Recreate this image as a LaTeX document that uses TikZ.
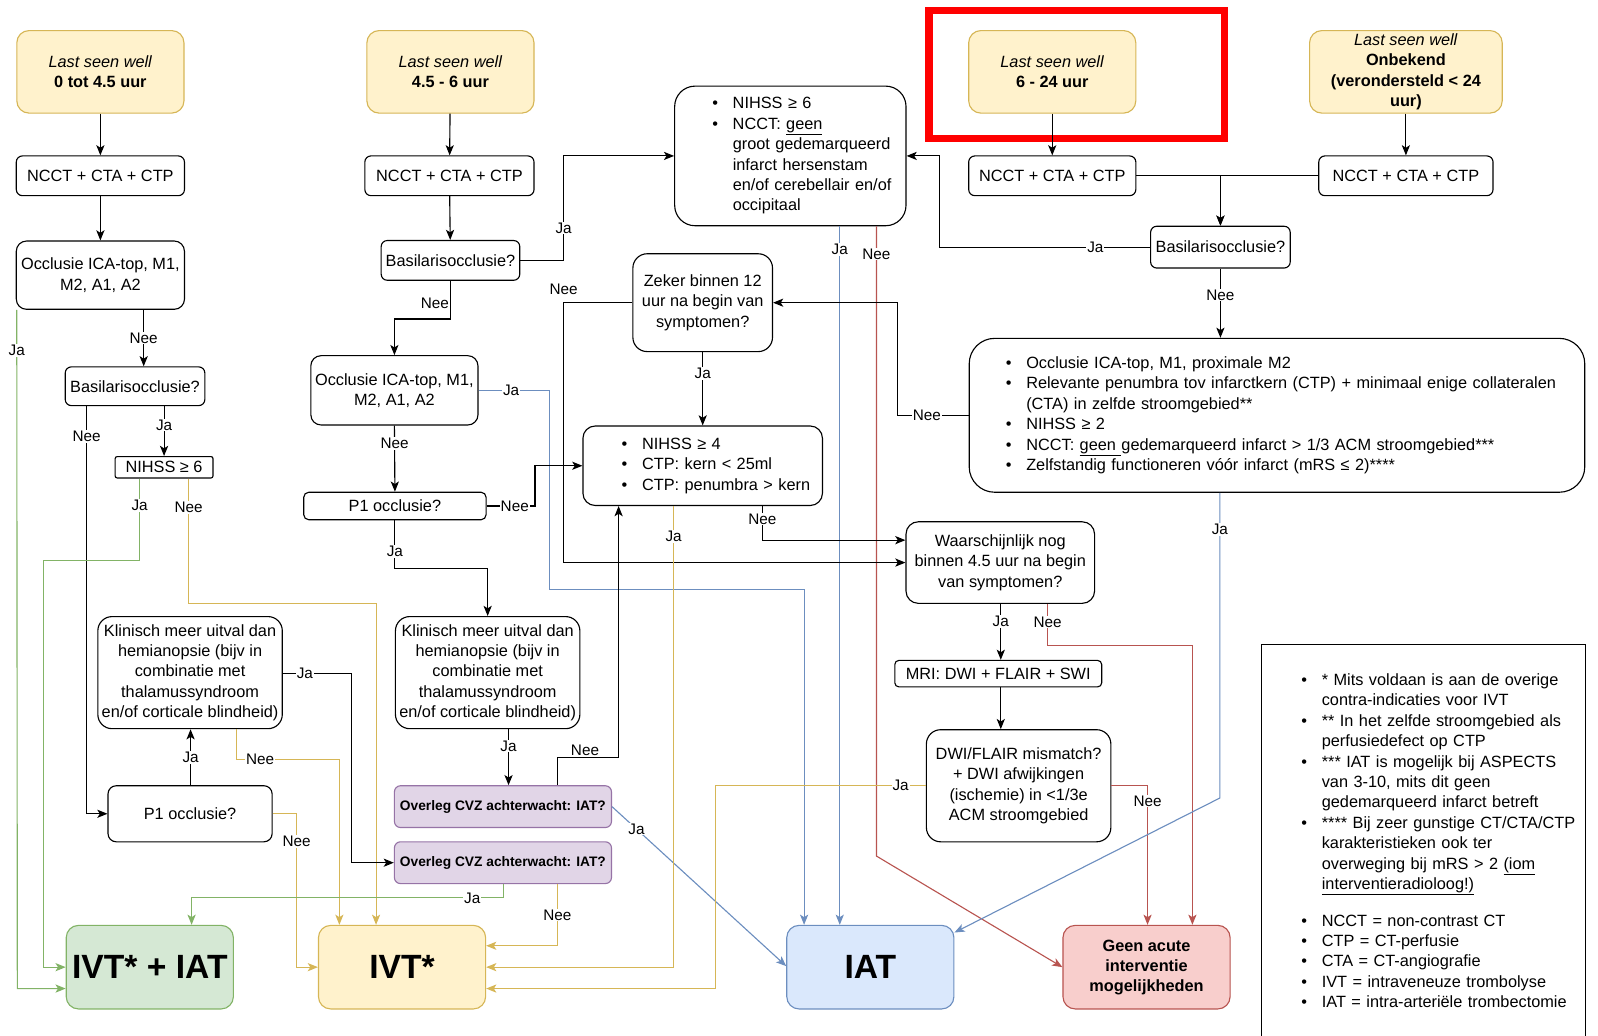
\documentclass[tikz,border=0pt]{standalone}
\usepackage{fontspec}
\setmainfont{Liberation Sans}
\usepackage{xcolor}
\usepackage{tikz}
\usetikzlibrary{arrows.meta,positioning}

\definecolor{yelF}{HTML}{FFF2CC}\definecolor{yelD}{HTML}{D6B656}
\definecolor{grnF}{HTML}{D5E8D4}\definecolor{grnD}{HTML}{82B366}
\definecolor{bluF}{HTML}{DAE8FC}\definecolor{bluD}{HTML}{6C8EBF}
\definecolor{redF}{HTML}{F8CECC}\definecolor{redD}{HTML}{B85450}
\definecolor{purF}{HTML}{E1D5E7}\definecolor{purD}{HTML}{9673A6}
\newcommand{\bltx}{\makebox[20pt][l]{\textbullet}}
\newcommand{\indx}{\hspace*{20pt}}
\newcommand{\lstskip}[1]{\leftskip=#1\rightskip=-40pt plus 1fil\relax}

\begin{document}
\begin{tikzpicture}[x=1pt, y=-1pt, font=\fontsize{16}{20}\selectfont,
  box/.style={draw, rounded corners=#1, align=center, inner sep=2pt, line width=1.1pt},
  box/.default=6pt,
  lst/.style={box=#1, align=left, inner xsep=4pt},
  note/.style={draw, line width=0.9pt, align=left, inner xsep=4pt},
  lsw/.style={box=12pt, fill=yelF, draw=yelD, minimum width=164pt, minimum height=81pt},
  scan/.style={box, minimum height=39pt},
  ovl/.style={box, fill=purF, draw=purD, minimum width=213pt, minimum height=41pt, font=\fontsize{13.5}{16}\selectfont\bfseries},
  endbox/.style={box=12pt, minimum width=164pt, minimum height=82pt, font=\fontsize{33}{36}\selectfont\bfseries},
  lbl/.style={fill=white, inner sep=1pt, font=\fontsize{15}{18}\selectfont},
  arr/.style={-{Stealth[length=10pt, width=8pt, inset=2.5pt]}, line width=1.1pt},
  garr/.style={arr, draw=grnD}, yarr/.style={arr, draw=yelD},
  barr/.style={arr, draw=bluD}, rarr/.style={arr, draw=redD}]
\useasboundingbox (0,0) rectangle (1568,1016);
% start
\node[lsw] (L1) at (98.5,70.5) {\textit{Last seen well}\\\textbf{0 tot 4.5 uur}};
\node[lsw] (L2) at (442,70.5) {\textit{Last seen well}\\\textbf{4.5 - 6 uur}};
\node[lsw] (L3) at (1032.5,70.5) {\textit{Last seen well}\\\textbf{6 - 24 uur}};
\node[lsw, minimum width=189pt, inner ysep=0pt] (L4) at (1379.5,70.5) {\textit{Last seen well}\\\textbf{Onbekend}\\\textbf{(verondersteld < 24}\\\textbf{uur)}};
\draw[red, line width=7pt] (911.5,10.5) rectangle (1201.5,135.5);
\node[scan, minimum width=165pt] (C1) at (98.5,172.5) {NCCT + CTA + CTP};
\node[scan, minimum width=166pt] (C2) at (441,172.5) {NCCT + CTA + CTP};
\node[scan, minimum width=164pt] (C3) at (1032.5,172.5) {NCCT + CTA + CTP};
\node[scan, minimum width=171pt] (C4) at (1379.5,172.5) {NCCT + CTA + CTP};
% 0 - 4.5 uur
\node[box=10pt, minimum width=165pt, minimum height=67pt] (O1) at (98.5,270) {Occlusie ICA-top, M1,\\M2, A1, A2};
\node[box, minimum width=137pt, minimum height=38pt] (B1) at (132.5,379) {Basilarisocclusie?};
\node[box=2pt, minimum width=96pt, minimum height=21pt, inner ysep=0pt] (H1) at (161,458.5) {NIHSS ≥ 6};
\node[box=14pt, minimum width=181pt, minimum height=110pt] (K1) at (186.5,660) {Klinisch meer uitval dan\\hemianopsie (bijv in\\combinatie met\\thalamussyndroom\\en/of corticale blindheid)};
\node[box=8pt, minimum width=161pt, minimum height=55pt] (P1) at (186.5,798.5) {P1 occlusie?};
% 4.5 - 6 uur
\node[box, minimum width=136pt, minimum height=39pt] (B2) at (442,255.5) {Basilarisocclusie?};
\node[box=10pt, minimum width=164pt, minimum height=68pt] (O2) at (387,383) {Occlusie ICA-top, M1,\\M2, A1, A2};
\node[box=5pt, minimum width=179pt, minimum height=27pt, inner ysep=0pt] (P2) at (387.5,496.5) {P1 occlusie?};
\node[box=14pt, minimum width=181pt, minimum height=110pt] (K2) at (478.5,660) {Klinisch meer uitval dan\\hemianopsie (bijv in\\combinatie met\\thalamussyndroom\\en/of corticale blindheid)};
\node[ovl] (V1) at (493.5,791.5) {Overleg CVZ achterwacht: IAT?};
\node[ovl] (V2) at (493.5,846.5) {Overleg CVZ achterwacht: IAT?};
% criteria
\node[lst=20pt, text width=219pt, minimum height=137pt] (E1) at (775.5,153) {\lstskip{33pt}%
\bltx NIHSS ≥ 6\\
\bltx NCCT: \underline{geen}\\
\indx groot gedemarqueerd\\
\indx infarct hersenstam\\
\indx en/of cerebellair en/of\\
\indx occipitaal\par};
\node[box=14pt, minimum width=137pt, minimum height=96pt] (Z) at (689.5,297) {Zeker binnen 12\\uur na begin van\\symptomen?};
\node[lst=12pt, text width=227pt, minimum height=78pt] (E2) at (689.5,457) {\lstskip{34pt}%
\bltx NIHSS ≥ 4\\
\bltx CTP: kern < 25ml\\
\bltx CTP: penumbra > kern\par};
\node[box=12pt, minimum width=185pt, minimum height=80pt] (W) at (981.5,552) {Waarschijnlijk nog\\binnen 4.5 uur na begin\\van symptomen?};
\node[box=4pt, minimum width=203pt, minimum height=26pt, inner ysep=0pt] (M) at (979.5,661) {MRI: DWI + FLAIR + SWI};
\node[box=14pt, minimum width=181pt, minimum height=110pt] (D) at (999.5,771) {DWI/FLAIR mismatch?\\+ DWI afwijkingen\\(ischemie) in <1/3e\\ACM stroomgebied};
\node[box, minimum width=137pt, minimum height=41pt] (B3) at (1197.5,242.5) {Basilarisocclusie?};
\node[lst=25pt, text width=596pt, minimum height=151pt] (E3) at (1253,407.5) {\lstskip{32pt}%
\bltx Occlusie ICA-top, M1, proximale M2\\
\bltx Relevante penumbra tov infarctkern (CTP) + minimaal enige collateralen\\
\indx (CTA) in zelfde stroomgebied**\\
\bltx NIHSS ≥ 2\\
\bltx NCCT: \underline{geen }gedemarqueerd infarct > 1/3 ACM stroomgebied***\\
\bltx Zelfstandig functioneren vóór infarct (mRS ≤ 2)****\par};
% outcomes
\node[endbox, fill=grnF, draw=grnD] (G) at (147,949) {IVT* + IAT};
\node[endbox, fill=yelF, draw=yelD] (Y) at (394.5,949) {IVT*};
\node[endbox, fill=bluF, draw=bluD] (I) at (854,949) {IAT};
\node[endbox, fill=redF, draw=redD, font=\fontsize{16}{19.5}\selectfont\bfseries] (R) at (1125,949) {Geen acute\\interventie\\mogelijkheden};
\node[note, text width=310pt, minimum height=386pt] (X) at (1397,825) {\lstskip{35pt}%
\bltx * Mits voldaan is aan de overige\\
\indx contra-indicaties voor IVT\\
\bltx ** In het zelfde stroomgebied als\\
\indx perfusiedefect op CTP\\
\bltx *** IAT is mogelijk bij ASPECTS\\
\indx van 3-10, mits dit geen\\
\indx gedemarqueerd infarct betreft\\
\bltx **** Bij zeer gunstige CT/CTA/CTP\\
\indx karakteristieken ook ter\\
\indx overweging bij mRS > 2 \underline{(iom}\\
\indx \underline{interventieradioloog!)}\\[16pt]
\bltx NCCT = non-contrast CT\\
\bltx CTP = CT-perfusie\\
\bltx CTA = CT-angiografie\\
\bltx IVT = intraveneuze trombolyse\\
\bltx IAT = intra-arteriële trombectomie\par};
% connectors 0 - 4.5 uur
\draw[arr] (L1) -- (C1); \draw[arr] (C1) -- (O1);
\draw[garr] ([xshift=1pt]O1.south west) -- node[lbl, pos=0.06]{Ja} (17,970) -- (G.west |- 0,970);
\draw[arr] (O1.south -| 141,0) -- node[lbl]{Nee} (B1.north -| 141,0);
\draw[arr] (B1.south -| H1.north) -- node[lbl, pos=0.38]{Ja} (H1.north);
\draw[arr] (B1.south -| 85,0) -- node[lbl, pos=0.075]{Nee} (85,798.5) -- (P1.west);
\draw[garr] (H1.south -| 137,0) -- node[lbl, pos=0.33]{Ja} (137,550) -- (43,550) -- (43,949) -- (G.west);
\draw[yarr] (H1.south -| 185,0) -- node[lbl, pos=0.23]{Nee} (185,592) -- (369,592) -- (Y.north -| 369,0);
\draw[arr] (P1.north -| 187,0) -- node[lbl]{Ja} (K1.south -| 187,0);
\draw[arr] (K1.east |- 0,661) -- node[lbl, pos=0.32]{Ja} (345,661) -- (345,846.5) -- (V2.west);
\draw[yarr] (K1.south -| 232,0) -- (232,745) -- node[lbl, pos=0.23]{Nee} (333,745) -- (Y.north -| 333,0);
\draw[yarr] (P1.east) -- (291,798.5) -- node[lbl, pos=0.18]{Nee} (291,949) -- (Y.west);
% connectors 4.5 - 6 uur
\draw[arr] (L2) -- (C2); \draw[arr] (C2) -- (B2);
\draw[arr] (B2.east) -- (553,255.5) -- node[lbl, pos=0.31]{Ja} (553,153) -- (E1.west);
\draw[arr] (B2.south) -- node[lbl, left, pos=0.6]{Nee} (442,313) -- (387,313) -- (O2.north);
\draw[barr] (O2.east) -- node[lbl, pos=0.46]{Ja} (539,383) -- (539,578) -- (789,578) -- (I.north -| 789,0);
\draw[arr] (O2.south) -- node[lbl, pos=0.27]{Nee} (P2.north);
\draw[arr] (P2.east) -- node[lbl, pos=0.58]{Nee} (525,496.5) -- (525,457) -- (E2.west);
\draw[arr] (P2.south) -- node[lbl, pos=0.65]{Ja} (387.5,558) -- (478.5,558) -- (K2.north);
\draw[arr] (K2.south -| 499,0) -- node[lbl, pos=0.3]{Ja} (V1.north -| 499,0);
\draw[arr] (V1.north -| 547,0) -- (547,743) -- node[lbl, above, pos=0.45]{Nee} (607,743) -- (E2.south -| 607,0);
\draw[barr] (V1.east) -- node[lbl, pos=0.14]{Ja} (I.west |- 0,948);
\draw[garr] (V2.south -| 494,0) -- (494,881) -- node[lbl, pos=0.1]{Ja} (188,881) -- (G.north -| 188,0);
\draw[yarr] (V2.south -| 547,0) -- node[lbl]{Nee} (547,928) -- (Y.east |- 0,928);
% connectors criteria
\draw[barr] (E1.south -| 824,0) -- node[lbl, pos=0.033]{Ja} (I.north -| 824,0);
\draw[rarr] (E1.south -| 860,0) -- node[lbl, pos=0.044]{Nee} (860,840) -- (R.west);
\draw[arr] (Z.west) -- (553,297) node[lbl, above=6pt]{Nee} -- (553,552) -- (W.west);
\draw[arr] (Z.south) -- node[lbl, pos=0.29]{Ja} (E2.north -| Z.south);
\draw[yarr] (E2.south -| 661,0) -- node[lbl, pos=0.066]{Ja} (661,949) -- (Y.east);
\draw[arr] (E2.south -| 748,0) -- node[lbl, pos=0.38]{Nee} (748,530) -- (W.west |- 0,530);
\draw[arr] (W.south -| 982,0) -- node[lbl, pos=0.32]{Ja} (M.north -| 982,0);
\draw[rarr] (W.south -| 1028,0) -- node[lbl, pos=0.44]{Nee} (1028,633) -- (1170,633) -- (R.north -| 1170,0);
\draw[arr] (M.south -| 982,0) -- (D.north -| 982,0);
\draw[yarr] (D.west) -- node[lbl, pos=0.12]{Ja} (702,771) -- (702,970) -- (Y.east |- 0,970);
\draw[rarr] (D.east) -- (1126,771) -- node[lbl, pos=0.11]{Nee} (R.north -| 1126,0);
% connectors 6 - 24 uur / onbekend
\draw[arr] (L3) -- (C3); \draw[arr] (L4) -- (C4);
\draw[arr] (C3.east) -| (B3.north); \draw[arr] (C4.west) -| (B3.north);
\draw[arr] (B3.west) -- node[lbl, pos=0.26]{Ja} (922,242.5) -- (922,153) -- (E1.east);
\draw[arr] (B3.south) -- node[lbl, pos=0.38]{Nee} (E3.north -| B3.south);
\draw[arr] (E3.west) -- node[lbl, pos=0.59]{Nee} (881,407.5) -- (881,297) -- (Z.east);
\draw[barr] (E3.south -| 1197,0) -- node[lbl, pos=0.12]{Ja} (1197,783) -- (I.east |- 0,915);
\end{tikzpicture}
\end{document}
